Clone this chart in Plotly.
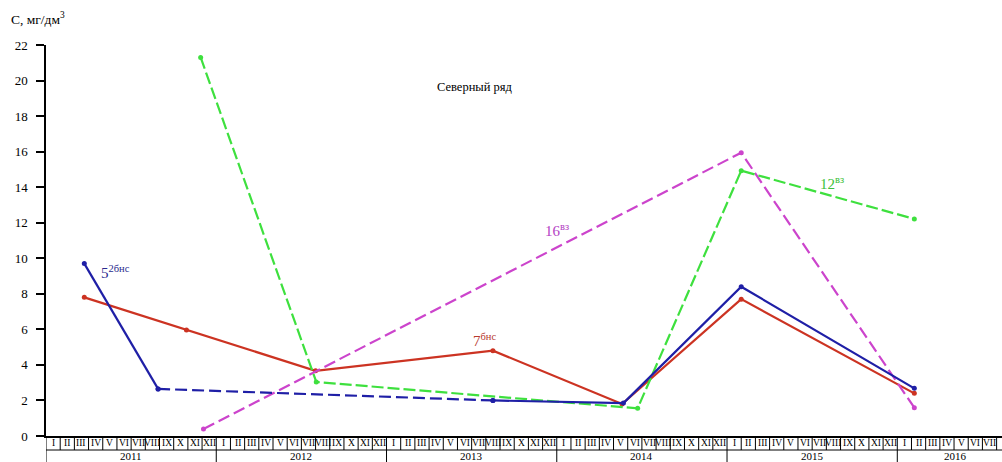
import plotly.graph_objects as go

# ---- data (x = months since January 2011, fractional) ----
MONTHS = ["I", "II", "III", "IV", "V", "VI", "VII", "VIII", "IX", "X", "XI", "XII"]
YEARS = ["2011", "2012", "2013", "2014", "2015", "2016"]
YEAR_LABEL_X = [6, 18, 30, 42, 54, 64.1]

s5_x = [2.7, 7.9, 31.5, 40.7, 49.0, 61.2]
s5_y = [9.7, 2.65, 2.0, 1.85, 8.4, 2.68]

s7_x = [2.7, 9.9, 19.0, 31.5, 40.6, 49.0, 61.2]
s7_y = [7.8, 5.96, 3.67, 4.8, 1.8, 7.7, 2.4]

s12_x = [10.9, 19.05, 41.7, 49.0, 61.2]
s12_y = [21.3, 3.04, 1.56, 14.93, 12.21]

s16_x = [11.1, 49.0, 61.2]
s16_y = [0.39, 15.94, 1.59]

X_MAX = 67.38

BLUE = "#1f1fa6"
RED = "#cc3322"
GREEN = "#3ee03e"
MAGENTA = "#cc44cc"
SERIF = "Liberation Serif"

fig = go.Figure()

def add(x, y, color, dash):
    fig.add_trace(go.Scatter(
        x=x, y=y, mode="lines+markers",
        line=dict(color=color, width=2.2, dash=dash),
        marker=dict(color=color, size=5),
        showlegend=False, hoverinfo="skip"))

add(s7_x, s7_y, RED, "solid")
add(s16_x, s16_y, MAGENTA, "12px,5px")
add(s12_x, s12_y, GREEN, "12px,4px")
add(s5_x[0:2], s5_y[0:2], BLUE, "solid")
add(s5_x[1:3], s5_y[1:3], BLUE, "12px,5px")
add(s5_x[2:], s5_y[2:], BLUE, "solid")

shapes = []
ROW1 = -14 / 391.0
ROW2 = -26 / 391.0
for m in range(0, 68):
    shapes.append(dict(type="line", xref="x", yref="paper", x0=m, x1=m, y0=0, y1=ROW1,
                       line=dict(color="black", width=1)))
for yi in range(len(YEARS)):
    m = yi * 12
    shapes.append(dict(type="line", xref="x", yref="paper", x0=m, x1=m, y0=ROW1, y1=ROW2,
                       line=dict(color="black", width=1)))
shapes.append(dict(type="line", xref="paper", yref="paper", x0=0, x1=1, y0=ROW1, y1=ROW1,
                   line=dict(color="black", width=1)))
shapes.append(dict(type="line", xref="paper", yref="paper", x0=-8 / 956.0, x1=0, y0=0, y1=0,
                   line=dict(color="black", width=1.5)))

annotations = []
for yi in range(len(YEARS)):
    for mi, lab in enumerate(MONTHS):
        m = yi * 12 + mi + 0.5
        if m > X_MAX:
            continue
        annotations.append(dict(x=m, y=-7 / 391.0, xref="x", yref="paper", text=lab,
                                showarrow=False, xanchor="center", yanchor="middle",
                                font=dict(family=SERIF, size=9.5, color="black")))
for yi, lab in enumerate(YEARS):
    annotations.append(dict(x=YEAR_LABEL_X[yi], y=-20 / 391.0, xref="x", yref="paper", text=lab,
                            showarrow=False, xanchor="center", yanchor="middle",
                            font=dict(family=SERIF, size=11, color="black")))

def lab(x, y, text, color):
    annotations.append(dict(x=x, y=y, xref="x", yref="y", text=text, showarrow=False,
                            xanchor="center", yanchor="middle",
                            font=dict(family=SERIF, size=15, color=color)))

lab(4.9, 9.25, "5<sup>2бнс</sup>", "#2a2a8e")
lab(30.9, 5.4, "7<sup>бнс</sup>", "#b83a2e")
lab(36.0, 11.6, "16<sup>вз</sup>", "#b443c4")
lab(55.4, 14.25, "12<sup>вз</sup>", "#3cbf3c")

annotations.append(dict(x=(475 - 46) / 956.0, y=(436 - 87) / 391.0, xref="paper", yref="paper",
                        text="Северный ряд", showarrow=False, xanchor="center", yanchor="middle",
                        font=dict(family=SERIF, size=12.5, color="black")))
annotations.append(dict(x=(9 - 46) / 956.0, y=(436 - 18) / 391.0, xref="paper", yref="paper",
                        text="С, мг/дм<sup>3</sup>", showarrow=False, xanchor="left", yanchor="middle",
                        font=dict(family=SERIF, size=13.5, color="black")))

fig.update_layout(
    width=1002, height=462,
    margin=dict(l=46, r=0, t=45, b=26),
    plot_bgcolor="white", paper_bgcolor="white",
    xaxis=dict(range=[0, X_MAX], showgrid=False, zeroline=False, showticklabels=False,
               ticks="", showline=True, linecolor="black", linewidth=1.5),
    yaxis=dict(range=[0, 22], dtick=2, tick0=0, showgrid=False, zeroline=False,
               showline=True, linecolor="black", linewidth=1.5,
               ticks="outside", ticklen=8, tickwidth=1.5, tickcolor="black",
               ticklabelstandoff=6,
               tickfont=dict(family=SERIF, size=13, color="black")),
    shapes=shapes, annotations=annotations,
)

fig.write_html("out.html", config={"displayModeBar": False},
               post_script="document.body.style.margin='0';")
